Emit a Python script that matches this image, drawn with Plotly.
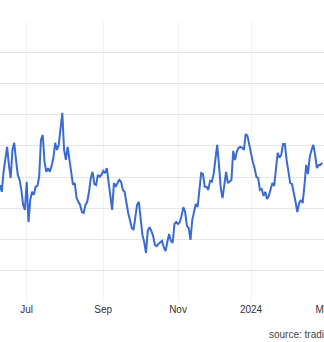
import pandas as pd
import plotly.graph_objects as go

start_date = "2023-06-09"
end_date = "2024-03-01"
holidays = ["2023-06-19", "2023-07-04", "2023-09-04", "2023-11-23",
            "2023-12-25", "2024-01-01", "2024-01-15", "2024-02-19"]

values = [
    137.5, 135.3, 141.7, 146.2, 149.7, 143.9, 139.7, 148.7, 151.0, 145.5,
    140.7, 139.1, 135.9, 131.1, 129.5, 138.5, 125.6, 132.7, 135.3, 134.3,
    136.9, 137.2, 140.1, 151.9, 153.5, 144.9, 141.7, 142.9, 141.7, 143.6,
    146.2, 151.0, 148.7, 150.3, 155.1, 160.6, 148.7, 145.5, 149.7, 145.5,
    141.7, 137.5, 138.1, 133.3, 132.1, 131.1, 128.8, 128.5, 131.1, 132.1,
    135.3, 139.7, 141.7, 137.8, 137.5, 140.7, 140.1, 140.7, 142.0, 141.3,
    142.9, 138.5, 133.3, 129.5, 138.1, 136.9, 138.1, 139.1, 138.5, 135.9,
    135.3, 131.7, 128.5, 126.3, 123.7, 123.1, 127.9, 131.1, 132.1, 125.6,
    121.5, 119.2, 115.7, 122.8, 124.0, 122.8, 121.2, 118.3, 117.9, 118.6,
    119.2, 119.6, 117.6, 116.3, 119.2, 121.8, 119.6, 118.9, 125.0, 125.6,
    125.0, 125.6, 127.6, 130.4, 128.8, 124.4, 123.7, 119.9, 126.3, 128.8,
    131.4, 130.4, 135.9, 141.3, 141.0, 136.9, 136.9, 135.9, 138.8, 138.5,
    141.0, 145.5, 150.3, 143.9, 136.5, 133.3, 137.2, 141.7, 138.1, 138.5,
    139.1, 148.4, 145.5, 148.1, 149.4, 149.7, 149.4, 148.7, 153.8, 153.2,
    150.3, 147.1, 144.9, 142.9, 140.1, 139.7, 135.9, 136.2, 134.0, 135.3,
    133.0, 134.0, 135.9, 138.1, 137.2, 143.9, 147.8, 146.2, 147.1, 150.6,
    150.6, 145.5, 142.3, 138.1, 137.8, 134.3, 132.1, 128.8, 131.7, 132.7,
    131.7, 137.2, 143.9, 141.0, 146.5, 148.7, 150.3, 147.1, 142.9, 143.9,
    143.9, 144.6,
]

tick_dates = ["2023-07-03", "2023-09-01", "2023-11-01", "2024-01-02", "2024-03-01"]
tick_labels = ["Jul", "Sep", "Nov", "2024", "Mar"]

dates = pd.bdate_range(start=start_date, periods=len(values) + 20, freq="C",
                       holidays=holidays)[:len(values)]

fig = go.Figure()
fig.add_trace(go.Scatter(x=dates, y=values, mode="lines",
                         line=dict(color="#3b6bd1", width=2),
                         hoverinfo="skip", showlegend=False))

fig.update_layout(
    width=324, height=342,
    margin=dict(l=0, r=0, t=21, b=40),
    paper_bgcolor="white", plot_bgcolor="white",
    font=dict(family="Liberation Sans, Arial, sans-serif", color="#333333", size=10),
    xaxis=dict(
        type="date",
        automargin=False,
        range=[dates[0], end_date],
        rangebreaks=[dict(bounds=["sat", "mon"]), dict(values=holidays)],
        tickvals=tick_dates, ticktext=tick_labels,
        ticklabeloverflow="allow",
        showgrid=True, gridcolor="#f3f3f3", gridwidth=1,
        showline=False, zeroline=False, ticks="",
        tickfont=dict(size=10, color="#333333"),
    ),
    yaxis=dict(
        automargin=False,
        range=[100, 190], dtick=10, tick0=100,
        showgrid=True, gridcolor="#e6e6e6", gridwidth=1,
        showticklabels=False, zeroline=False, showline=False, ticks="",
    ),
    annotations=[dict(
        text="source: tradingeconomics.com", x=267 / 324, y=-0.114,
        xref="paper", yref="paper", xanchor="left", yanchor="middle",
        showarrow=False, font=dict(size=10, color="#444444"),
    )],
)

fig.write_html("out.html")
